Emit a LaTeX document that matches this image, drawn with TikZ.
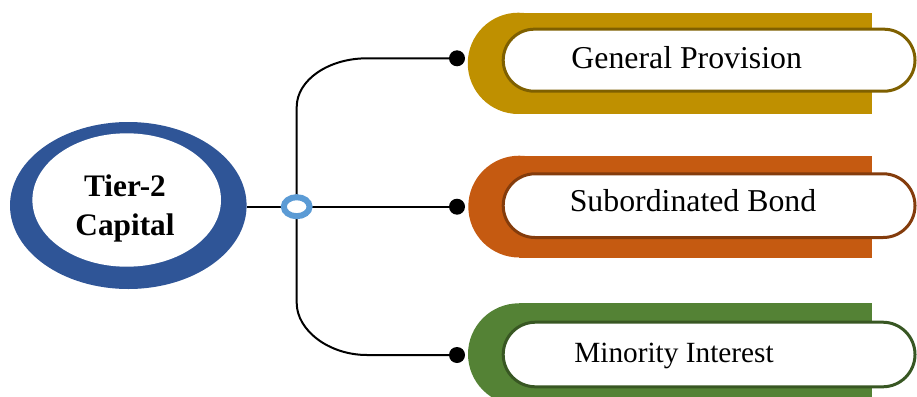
\documentclass[tikz,border=0pt]{standalone}
\usepackage{fontspec}
\setmainfont{Liberation Serif}
\usetikzlibrary{shapes.geometric}
\definecolor{mainblue}{HTML}{2F5597}
\definecolor{hubblue}{HTML}{5B9BD5}
\definecolor{gold}{HTML}{BF9000}
\definecolor{golddark}{HTML}{7F6000}
\definecolor{orng}{HTML}{C55A11}
\definecolor{orngdark}{HTML}{843C0C}
\definecolor{grn}{HTML}{548235}
\definecolor{grndark}{HTML}{385723}
\pgfdeclarelayer{background}
\pgfsetlayers{background,main}
\begin{document}
\begin{tikzpicture}[x=1pt,y=-1pt,
  conn/.style={line width=2pt, black},
  dotnode/.style={circle, fill=black, inner sep=0pt, minimum size=16pt},
  lbl/.style={font=\fontsize{31.8}{36}\selectfont, anchor=base, inner sep=0pt},
  pill/.style={line width=3pt, fill=white}]
\useasboundingbox (0,0) rectangle (917,396);
\clip (0,0) rectangle (917,396);

% central ellipse
\node[ellipse, fill=mainblue, minimum width=236.6pt, minimum height=167pt, inner sep=0pt] (outer) at (128.3,205.5) {};
\node[ellipse, fill=white, minimum width=188.6pt, minimum height=133.4pt, inner sep=0pt] (inner) at (126.7,200) {};
\node[align=center, inner sep=0pt, font=\bfseries\fontsize{31.3}{38.3}\selectfont] (maintext) at (125,208.6) {Tier-2\\Capital};

% hub and dots
\node[ellipse, draw=hubblue, line width=6pt, fill=white, minimum width=25.8pt, minimum height=19pt, inner sep=0pt] (hub) at (296.7,206.7) {};
\node[dotnode] (dot1) at (457,58.3) {};
\node[dotnode] (dot2) at (457,206.7) {};
\node[dotnode] (dot3) at (457,355) {};

% connectors
\begin{pgfonlayer}{background}
\draw[conn] (hub.center -| outer.east) -- (dot2.center);
\draw[conn] (hub.center) -- (296.7,107) .. controls (296.7,80) and (328.5,58.3) .. (367,58.3) -- (dot1.center);
\draw[conn] (hub.center) -- (296.7,303) .. controls (296.7,330) and (328.5,355) .. (367,355) -- (dot3.center);
\end{pgfonlayer}

% General Provision
\fill[gold] (518.4,12.7) rectangle (871.7,114);
\fill[gold] (518.4,63.35) circle[radius=50.65pt];
\draw[pill, draw=golddark, rounded corners=31pt] (503.2,29.2) rectangle (915,91.2);
\node[lbl] (t1) at (686.7,68.3) {General Provision};

% Subordinated Bond
\fill[orng] (519.2,155.7) rectangle (871.7,257.5);
\fill[orng] (519.2,206.6) circle[radius=50.9pt];
\draw[pill, draw=orngdark, rounded corners=31.8pt] (503.2,173.8) rectangle (915,237.5);
\node[lbl] (t2) at (693,211) {Subordinated Bond};

% Minority Interest
\fill[grn] (518.85,303.3) rectangle (871.7,405);
\fill[grn] (518.85,354.15) circle[radius=50.85pt];
\draw[pill, draw=grndark, rounded corners=32.3pt] (503.2,322.2) rectangle (915,386.8);
\node[lbl, font=\fontsize{29.3}{36}\selectfont] (t3) at (674,362.7) {Minority Interest};
\end{tikzpicture}
\end{document}
